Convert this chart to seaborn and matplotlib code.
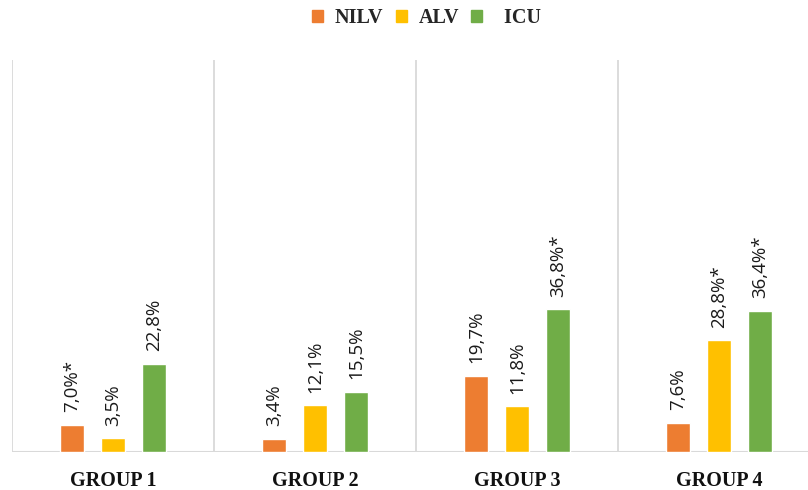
import matplotlib
matplotlib.use('Agg')
import matplotlib.pyplot as plt
import seaborn as sns
import pandas as pd

# data
groups = ['GROUP 1', 'GROUP 2', 'GROUP 3', 'GROUP 4']
series = ['NILV', 'ALV', 'ICU']
nilv = [7.0, 3.4, 19.7, 7.6]
alv = [3.5, 12.1, 11.8, 28.8]
icu = [22.8, 15.5, 36.8, 36.4]
nilv_labels = ['7,0%*', '3,4%', '19,7%', '7,6%']
alv_labels = ['3,5%', '12,1%', '11,8%', '28,8%*']
icu_labels = ['22,8%', '15,5%', '36,8%*', '36,4%*']

colors = ['#ED7D31', '#FFC000', '#70AD47']

df = pd.DataFrame({
    'group': groups * 3,
    'series': [s for s in series for _ in groups],
    'value': nilv + alv + icu,
})

sns.set_style('white')
fig = plt.figure(figsize=(8.08, 4.9), dpi=100)
ax = fig.add_axes([12 / 808, 38 / 490, 1 - 12 / 808, 392 / 490])

sns.barplot(data=df, x='group', y='value', hue='series', palette=colors,
            width=0.61, gap=0.42, ax=ax, legend=False, saturation=1)

for cont, labs in zip(ax.containers, [nilv_labels, alv_labels, icu_labels]):
    ax.bar_label(cont, labels=labs, rotation=90, padding=9,
                 fontsize=13.5, family='Open Sans', color='#1a1a1a')

ax.set_xlim(-0.5, 3.44)
ax.set_ylim(0, 101)
for xv in [-0.5, 0.5, 1.5, 2.5, 3.5]:
    ax.axvline(xv, color='#d9d9d9', lw=1.3, zorder=0)
ax.axhline(0, color='#d9d9d9', lw=1.5, zorder=0)

for sp in ax.spines.values():
    sp.set_visible(False)
ax.set_yticks([])
ax.set_xlabel('')
ax.set_ylabel('')
ax.tick_params(axis='x', length=0, pad=14)
for t in ax.get_xticklabels():
    t.set_family('Liberation Serif')
    t.set_fontweight('bold')
    t.set_fontsize(14.5)
    t.set_color('#111111')

handles = [plt.Rectangle((0, 0), 1, 1, color=c) for c in colors]
fig.legend(handles, ['NILV', 'ALV', '  ICU'], loc='upper center',
           bbox_to_anchor=(0.528, 1.02), ncol=3, frameon=False,
           handlelength=0.55, handleheight=0.55, handletextpad=0.6,
           columnspacing=0.6,
           prop={'family': 'Liberation Serif', 'weight': 'bold', 'size': 14.5})

fig.savefig('out.png', dpi=100)
